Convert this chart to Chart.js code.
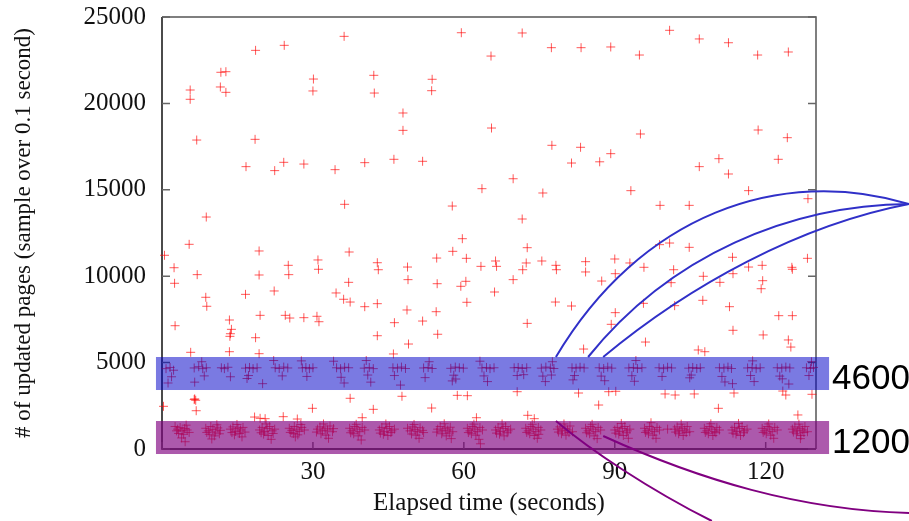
<!DOCTYPE html>
<html>
<head>
<meta charset="utf-8">
<script src="https://cdn.jsdelivr.net/npm/chart.js@4.4.1/dist/chart.umd.min.js"></script>
<style>
  body { margin: 0; background: #fff; }
  canvas { display: block; }
</style>
</head>
<body>
<canvas id="pages-chart" width="909" height="521"></canvas>
<script>
// axis ranges and ticks
const xTicks = [0, 30, 60, 90, 120];
const yTicks = [0, 5000, 10000, 15000, 20000, 25000];
const xMax = 130;
const yMax = 25000;

// scattered samples (time s, pages)
const sparsePoints = [
    [5.6,20775],[5.6,20237],[11.7,21800],[12.7,21835],[11.6,20950],[12.7,20640],[18.6,23070],[24.3,23360],[36.2,23880],
    [30.1,21410],[30.0,20720],[42.1,21625],[42.2,20600],[6.9,17880],[18.5,17920],[16.7,16340],[22.4,16110],[24.2,16590],
    [28.2,16490],[34.4,16165],[40.3,16570],[36.3,14160],[8.8,13425],
    [59.5,24090],[71.6,24075],[77.4,23225],[83.3,23225],[65.4,22740],[53.7,21395],[53.6,20735],[47.9,19445],[47.9,18440],
    [65.5,18575],[77.5,17575],[83.2,17460],[46.1,16765],[51.8,16650],[81.4,16550],[87.0,16620],[69.8,15640],[63.6,15065],
    [75.7,14815],[57.7,14060],[71.6,13310],
    [89.2,23265],[94.9,22800],[100.9,24230],[106.8,23730],[112.6,23510],[118.4,22800],[124.5,22975],[95.1,18230],
    [118.5,18460],[124.3,18015],[89.2,17090],[106.8,16340],[110.7,16800],[112.6,15915],[122.5,16765],[93.2,14950],
    [99.0,14100],[104.8,14100],[116.6,14950],[128.4,14485],
    [5.4,11845],[0.5,11210],[2.4,10490],[2.5,9590],[7.0,10090],[8.7,8780],[8.9,8260],[2.6,7135],[19.3,11460],[19.3,10070],
    [16.6,8950],[25.1,10630],[25.2,10090],[22.3,9145],[31.0,10940],[31.1,10400],[37.2,11400],[37.1,9645],[34.6,9030],
    [36.1,8665],[37.4,8505],[40.3,8235],[42.8,10780],[43.0,10375],[42.8,8410],[19.5,7735],[13.4,7465],[13.8,6925],
    [13.6,6670],[13.5,6520],[24.5,7735],[25.4,7580],[28.2,7600],[30.8,7680],[31.2,7365],[18.6,6440],[42.8,6555],
    [13.4,5630],[5.7,5595],[19.3,5515],
    [6.5,2900],[6.7,2820],[6.4,2860],[6.8,2215],[0.3,2470],[37.4,2935],[29.9,2355],[42.0,2295],[18.4,1850],[19.5,1775],
    [20.5,1755],[24.1,1870],[26.9,1735],[39.8,1810],
    [59.7,12170],[72.6,11650],[57.8,11440],[54.6,11050],[60.5,11035],[66.3,10880],[66.5,10570],[63.4,10570],[48.8,10530],
    [72.4,10765],[71.7,10375],[75.5,10880],[78.3,10630],[78.4,10375],[84.2,10840],[84.2,10245],[48.9,9800],[54.7,9565],
    [60.4,9705],[59.4,9415],[69.8,9800],[66.1,9085],[60.6,8490],[78.2,8505],[81.4,8275],[48.7,8045],[54.5,7945],
    [46.2,7310],[51.8,7405],[72.6,7270],[54.8,6640],[49.0,6075],[83.8,5785],[46.0,5500],
    [47.7,3050],[58.7,3105],[60.7,3085],[70.6,3315],[82.8,3240],[53.6,2370],[86.8,2545],[62.5,1810],[72.7,1950],[74.0,1755],
    [98.9,11825],[100.9,11920],[104.8,11670],[90.0,10995],[93.0,10765],[95.8,10515],[90.1,10145],[101.7,10375],
    [101.2,9625],[107.6,9995],[113.4,11095],[113.5,10145],[110.9,9645],[116.6,10530],[119.3,10630],[119.4,9740],
    [119.1,9275],[125.2,10515],[125.3,10400],[128.3,11035],[87.4,9720],[95.7,8430],[101.9,8295],[107.5,8605],
    [112.8,8235],[90.1,7890],[89.3,7215],[122.6,7715],[125.3,7715],[113.5,6870],[119.5,6600],[96.1,6190],[106.6,5730],
    [107.9,5630],[124.5,6310],[125.0,5900],
    [88.8,3315],[90.2,3340],[100.0,3185],[102.0,3125],[105.8,3185],[113.7,3240],[123.4,3355],[124.0,3125],[129.2,3165],
    [110.6,2355],[126.4,1970]
];

// periodic bursts around 4600 pages
const band4600Points = [
    [0.8,4650],[1.6,4720],[2.3,4560],[1.9,4180],[1.2,3820],
    [6.4,4690],[7.3,4760],[8.1,4650],[8.8,4700],[8.4,4230],[6.5,3870],[7.9,5050],
    [11.8,4700],[12.4,4650],[13.1,4730],[13.6,4180],
    [16.6,4680],[17.4,4720],[18.1,4650],[18.9,4700],[17.2,4250],[16.9,4080],[20.0,3780],
    [22.5,4700],[23.3,4660],[24.2,4740],[25.0,4690],[23.9,4230],[22.2,5120],
    [27.9,4690],[28.6,4720],[29.3,4650],[30.0,4700],[28.8,4200],[27.7,5100],
    [34.7,4700],[35.5,4650],[36.3,4730],[37.1,4700],[35.6,4150],[36.2,3820],[34.1,5080],
    [40.2,4680],[41.2,4720],[42.0,4650],[40.9,4280],[41.5,3870],[40.6,5120],
    [45.9,4700],[46.8,4680],[47.6,4740],[48.4,4660],[46.2,4250],[47.4,3700],
    [52.0,4690],[52.9,4720],[53.7,4660],[52.3,4130],[53.1,5050],
    [57.4,4670],[58.3,4740],[59.1,4700],[59.9,4680],[58.0,4270],[58.4,4050],[57.7,3940],
    [63.6,4690],[64.5,4720],[65.2,4650],[66.0,4700],[64.0,4230],[64.7,3900],[63.2,5080],
    [70.0,4700],[70.8,4720],[71.6,4660],[72.5,4700],[70.6,4250],[71.9,4300],
    [75.4,4680],[76.3,4740],[77.2,4690],[77.9,4660],[75.7,4220],[77.4,4280],[76.2,3900],[77.6,5050],
    [81.5,4700],[82.3,4680],[83.1,4730],[83.9,4690],[82.0,4250],[81.7,4000],
    [86.9,4700],[87.8,4660],[88.6,4740],[89.4,4680],[87.3,4220],[88.0,3950],
    [92.8,4690],[93.7,4720],[94.5,4660],[95.4,4700],[93.4,4240],[93.9,3920],[94.2,5120],
    [98.8,4700],[99.7,4650],[100.5,4730],[101.3,4690],[99.4,4200],
    [104.7,4680],[105.5,4720],[106.3,4660],[107.0,4700],[105.2,4280],[104.9,4120],
    [110.8,4700],[111.7,4680],[112.5,4740],[113.2,4660],[111.3,4200],[111.9,3880],[113.4,3780],
    [116.4,4690],[117.3,4720],[118.1,4650],[118.9,4700],[117.0,4250],[117.7,3900],[117.4,5100],
    [122.3,4700],[123.2,4680],[124.0,4740],[124.8,4690],[122.8,4220],[123.3,4060],[124.6,3760],
    [128.1,4700],[128.9,4660],[129.5,4720],[128.6,4250],[129.1,5050]
];

// periodic bursts around 1200 pages
const band1200Points = [
    [2.6,1300],[3.1,1150],[3.6,1240],[4.0,1050],[4.5,1180],[5.0,1100],[3.3,900],[4.3,850],[4.8,1380],[5.4,960],[3.9,640],[4.6,420],[2.9,1050],
    [8.7,1200],[9.2,1050],[9.7,1300],[10.1,1120],[10.6,980],[11.1,1220],[11.6,1080],[9.4,850],[10.4,760],[10.9,1400],[9.9,580],[8.9,960],[11.4,880],
    [13.6,1150],[14.1,1280],[14.6,1020],[15.1,1200],[15.6,1100],[16.1,1250],[16.5,980],[14.4,820],[15.4,900],[15.9,700],[14.9,1420],[13.9,950],
    [19.4,1100],[19.9,1250],[20.4,1020],[20.9,1180],[21.4,1300],[21.9,1050],[22.4,1150],[20.2,860],[21.1,780],[21.7,560],[20.7,1450],[19.7,940],[22.1,900],
    [25.3,1200],[25.8,1080],[26.3,1300],[26.8,1150],[27.3,1020],[27.8,1250],[28.3,1100],[26.1,900],[27.0,820],[27.6,1420],[26.5,700],[25.5,960],
    [30.9,1150],[31.4,1280],[31.9,1050],[32.4,1200],[32.9,1100],[33.4,1330],[33.9,1000],[31.6,880],[32.6,800],[33.1,620],[32.1,1450],[34.1,1180],[30.7,980],
    [37.3,1200],[37.8,1050],[38.3,1300],[38.8,1150],[39.3,1000],[39.8,1250],[40.3,1100],[38.1,880],[39.0,760],[39.6,520],[38.6,1430],[37.5,940],
    [43.2,1100],[43.7,1250],[44.2,1000],[44.7,1180],[45.2,1300],[45.7,1050],[46.2,1150],[44.0,850],[44.9,780],[45.5,950],[44.5,1450],[43.4,920],
    [48.8,1200],[49.3,1050],[49.8,1280],[50.3,1120],[50.8,1000],[51.3,1230],[51.8,1080],[49.6,870],[50.5,800],[51.1,620],[50.1,1420],[52.0,950],
    [54.8,1150],[55.3,1300],[55.8,1050],[56.3,1200],[56.8,1100],[57.3,1260],[57.8,1000],[55.6,880],[56.5,760],[57.1,920],[56.1,1460],[54.6,980],[57.5,600],
    [60.7,1200],[61.2,1050],[61.7,1300],[62.2,1150],[62.7,1000],[63.2,1250],[63.7,1100],[61.5,880],[62.4,800],[63.0,560],[62.0,1440],[60.9,950],[63.3,300],
    [66.3,1100],[66.8,1250],[67.3,1020],[67.8,1180],[68.3,1300],[68.8,1050],[69.3,1150],[67.1,860],[68.0,760],[68.6,940],[67.6,1450],[66.5,920],
    [72.3,1200],[72.8,1050],[73.3,1300],[73.8,1150],[74.3,1000],[74.8,1250],[75.3,1100],[73.1,880],[74.0,780],[74.6,620],[73.6,1430],[72.5,960],[74.9,850],
    [78.6,1150],[79.1,1280],[79.6,1050],[80.1,1200],[80.6,1100],[81.1,1330],[81.6,1000],[79.4,880],[80.3,800],[80.9,950],[79.9,1450],[78.8,980],
    [84.2,1200],[84.7,1050],[85.2,1300],[85.7,1150],[86.2,1000],[86.7,1250],[87.2,1100],[85.0,880],[85.9,760],[86.5,600],[85.5,1430],[84.4,940],
    [90.0,1100],[90.5,1250],[91.0,1020],[91.5,1180],[92.0,1300],[92.5,1050],[93.0,1150],[90.8,860],[91.7,780],[92.3,940],[91.3,1480],[90.2,920],[92.7,620],
    [95.9,1200],[96.4,1050],[96.9,1300],[97.4,1150],[97.9,1000],[98.4,1250],[98.9,1100],[96.7,880],[97.6,800],[98.2,620],[97.2,1520],[96.1,960],
    [101.9,1150],[102.4,1280],[102.9,1050],[103.4,1200],[103.9,1100],[104.4,1300],[104.9,1000],[102.7,880],[103.6,780],[104.2,950],[103.2,1440],[102.1,980],[100.5,1150],
    [107.8,1200],[108.3,1050],[108.8,1300],[109.3,1150],[109.8,1000],[110.3,1250],[110.8,1100],[108.6,880],[109.5,780],[110.1,940],[109.1,1460],[108.0,960],
    [113.3,1100],[113.8,1250],[114.3,1020],[114.8,1180],[115.3,1300],[115.8,1050],[116.3,1150],[114.1,860],[115.0,780],[115.6,940],[114.6,1480],[113.5,920],
    [119.3,1200],[119.8,1050],[120.3,1300],[120.8,1150],[121.3,1000],[121.8,1250],[122.3,1100],[120.1,880],[121.0,800],[121.6,620],[120.6,1450],[119.5,960],
    [125.3,1150],[125.8,1280],[126.3,1050],[126.8,1200],[127.3,1100],[127.8,1300],[128.3,1000],[126.1,880],[127.0,780],[127.6,950],[126.6,1440],[125.5,980],[126.9,600]
];

// highlighted bands (data units) and their labels
const bandLabels = ['4600', '1200'];
const bandLow = [3414, -290];
const bandHigh = [5324, 1620];
const bandStart = -1.2;
const bandEnd = 132.6;

// callout curves as cubic bezier control points (data units)
const blueCurves = [
    [[78.3,5324],[95.0,13542],[122.8,16435],[148.5,14178]],
    [[84.7,5324],[101.0,11227],[124.8,14120],[148.5,14178]],
    [[87.7,5324],[104.9,9491],[126.8,12963],[148.5,14178]]
];
const purpleCurves = [
    [[78.3,1620],[85.1,-58],[97.0,-2373],[109.3,-4167]],
    [[87.7,752],[106.9,-1794],[126.8,-3530],[148.5,-3704]]
];

function toXY(list) {
    return list.map(p => ({x: p[0], y: p[1]}));
}

const serif = '"Liberation Serif", "Times New Roman", serif';

const markStyle = {
    pointStyle: 'cross',
    pointRadius: 4.5,
    pointBorderWidth: 1,
    borderColor: 'rgba(255,0,0,0.65)',
    backgroundColor: 'rgba(255,0,0,0.65)',
    showLine: false,
    clip: 6
};

// frame with inward ticks, drawn under the points
const framePlugin = {
    id: 'frame',
    beforeDatasetsDraw(chart) {
        const {ctx, chartArea: a, scales: {x, y}} = chart;
        ctx.save();
        ctx.lineWidth = 1.5;
        ctx.strokeStyle = '#555';
        ctx.beginPath();
        ctx.moveTo(a.left, a.top);
        ctx.lineTo(a.right, a.top);
        ctx.lineTo(a.right, a.bottom);
        ctx.stroke();
        ctx.strokeStyle = '#111';
        ctx.beginPath();
        ctx.moveTo(a.left, a.top);
        ctx.lineTo(a.left, a.bottom);
        ctx.lineTo(a.right, a.bottom);
        ctx.stroke();
        ctx.strokeStyle = '#666';
        ctx.lineWidth = 1.5;
        ctx.beginPath();
        yTicks.forEach(v => {
            const py = y.getPixelForValue(v);
            ctx.moveTo(a.left, py);
            ctx.lineTo(a.left + 8, py);
            ctx.moveTo(a.right, py);
            ctx.lineTo(a.right - 8, py);
        });
        xTicks.forEach(v => {
            const px = x.getPixelForValue(v);
            ctx.moveTo(px, a.bottom);
            ctx.lineTo(px, a.bottom - 7);
        });
        ctx.stroke();
        ctx.restore();
    }
};

// translucent bands, labels and callout curves on top
const overlayPlugin = {
    id: 'overlay',
    afterDatasetsDraw(chart) {
        const {ctx, scales: {x, y}} = chart;
        const fills = ['rgba(0,0,200,0.52)', 'rgba(128,0,128,0.65)'];
        ctx.save();
        const x0 = x.getPixelForValue(bandStart);
        const x1 = x.getPixelForValue(bandEnd);
        bandLabels.forEach((label, i) => {
            const top = y.getPixelForValue(bandHigh[i]);
            const bottom = y.getPixelForValue(bandLow[i]);
            ctx.fillStyle = fills[i];
            ctx.fillRect(x0, top, x1 - x0, bottom - top);
            ctx.fillStyle = '#000';
            ctx.font = '35px "Liberation Sans", Arial, sans-serif';
            ctx.textAlign = 'left';
            ctx.textBaseline = 'alphabetic';
            ctx.fillText(label, x1 + 3, bottom - 1);
        });

        function drawCurve(c, color) {
            ctx.strokeStyle = color;
            ctx.lineWidth = 2;
            ctx.beginPath();
            ctx.moveTo(x.getPixelForValue(c[0][0]), y.getPixelForValue(c[0][1]));
            ctx.bezierCurveTo(
                x.getPixelForValue(c[1][0]), y.getPixelForValue(c[1][1]),
                x.getPixelForValue(c[2][0]), y.getPixelForValue(c[2][1]),
                x.getPixelForValue(c[3][0]), y.getPixelForValue(c[3][1])
            );
            ctx.stroke();
        }
        blueCurves.forEach(c => drawCurve(c, 'rgb(48,48,200)'));
        purpleCurves.forEach(c => drawCurve(c, 'rgb(128,0,128)'));
        ctx.restore();
    }
};

const ctx = document.getElementById('pages-chart').getContext('2d');
new Chart(ctx, {
    type: 'scatter',
    data: {
        datasets: [
            Object.assign({label: 'scattered', data: toXY(sparsePoints)}, markStyle),
            Object.assign({label: 'around 4600', data: toXY(band4600Points)}, markStyle),
            Object.assign({label: 'around 1200', data: toXY(band1200Points)}, markStyle)
        ]
    },
    options: {
        responsive: false,
        animation: false,
        devicePixelRatio: 1,
        layout: {padding: {left: 0, right: 93, top: 17, bottom: 0}},
        plugins: {
            legend: {display: false},
            tooltip: {enabled: false}
        },
        scales: {
            x: {
                type: 'linear',
                min: 0,
                max: xMax,
                afterFit(scale) {
                    scale.height = 72;
                    scale.paddingLeft = 0;
                    scale.paddingRight = 0;
                },
                afterBuildTicks(scale) { scale.ticks = xTicks.map(v => ({value: v})); },
                grid: {display: false, drawTicks: false},
                border: {display: false},
                ticks: {
                    autoSkip: false,
                    maxRotation: 0,
                    padding: 8,
                    color: '#111',
                    font: {family: serif, size: 25},
                    callback: v => v === 0 ? '' : v
                },
                title: {
                    display: true,
                    text: 'Elapsed time (seconds)',
                    color: '#111',
                    font: {family: serif, size: 25},
                    padding: {top: 0, bottom: 3}
                }
            },
            y: {
                type: 'linear',
                min: 0,
                max: yMax,
                afterFit(scale) {
                    scale.width = 162;
                    scale.paddingTop = 0;
                    scale.paddingBottom = 0;
                },
                afterBuildTicks(scale) { scale.ticks = yTicks.map(v => ({value: v})); },
                grid: {display: false, drawTicks: false},
                border: {display: false},
                ticks: {
                    autoSkip: false,
                    padding: 16,
                    color: '#111',
                    font: {family: serif, size: 25},
                    callback: v => String(v)
                },
                title: {
                    display: true,
                    text: '# of updated pages (sample over 0.1 second)',
                    color: '#111',
                    font: {family: serif, size: 23},
                    padding: {top: 10, bottom: 0}
                }
            }
        }
    },
    plugins: [framePlugin, overlayPlugin]
});
</script>
</body>
</html>
